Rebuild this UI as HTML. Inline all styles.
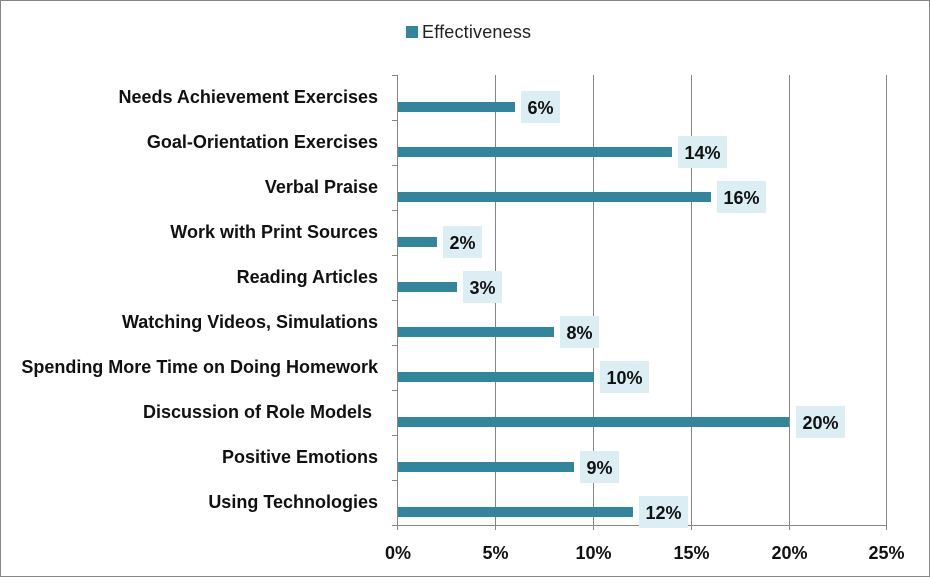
<!DOCTYPE html>
<html><head><meta charset="utf-8"><style>
body{margin:0;background:#fff}
</style></head><body>
<svg width="930" height="578" xmlns="http://www.w3.org/2000/svg" font-family="Liberation Sans, sans-serif">
<rect x="0.5" y="0.5" width="929" height="576" fill="#fff" stroke="#868686"/>
<rect x="406" y="26" width="12" height="12" fill="#31859c"/>
<text x="422" y="38" font-size="18" fill="#222" textLength="109">Effectiveness</text>
<g stroke="#868686" stroke-width="1">
<line x1="495.5" y1="75" x2="495.5" y2="525"/>
<line x1="593.5" y1="75" x2="593.5" y2="525"/>
<line x1="691.5" y1="75" x2="691.5" y2="525"/>
<line x1="789.5" y1="75" x2="789.5" y2="525"/>
<line x1="886.5" y1="75" x2="886.5" y2="525"/>
<line x1="397.5" y1="75" x2="397.5" y2="530"/>
<line x1="392" y1="525.5" x2="887" y2="525.5"/>
<line x1="392" y1="75.5" x2="397" y2="75.5"/><line x1="392" y1="120.5" x2="397" y2="120.5"/>
<line x1="392" y1="165.5" x2="397" y2="165.5"/><line x1="392" y1="210.5" x2="397" y2="210.5"/>
<line x1="392" y1="255.5" x2="397" y2="255.5"/><line x1="392" y1="300.5" x2="397" y2="300.5"/>
<line x1="392" y1="345.5" x2="397" y2="345.5"/><line x1="392" y1="390.5" x2="397" y2="390.5"/>
<line x1="392" y1="435.5" x2="397" y2="435.5"/><line x1="392" y1="480.5" x2="397" y2="480.5"/>
<line x1="495.5" y1="525" x2="495.5" y2="530"/><line x1="593.5" y1="525" x2="593.5" y2="530"/>
<line x1="691.5" y1="525" x2="691.5" y2="530"/><line x1="789.5" y1="525" x2="789.5" y2="530"/>
<line x1="886.5" y1="525" x2="886.5" y2="530"/>
</g>
<g font-size="18" font-weight="bold" fill="#111" text-anchor="end">
<text x="378" y="103">Needs Achievement Exercises</text>
<text x="378" y="148">Goal-Orientation Exercises</text>
<text x="378" y="193">Verbal Praise</text>
<text x="378" y="238">Work with Print Sources</text>
<text x="378" y="283">Reading Articles</text>
<text x="378" y="328">Watching Videos, Simulations</text>
<text x="378" y="373">Spending More Time on Doing Homework</text>
<text x="372" y="418">Discussion of Role Models</text>
<text x="378" y="463">Positive Emotions</text>
<text x="378" y="508">Using Technologies</text>
</g>
<g fill="#31859c">
<rect x="398" y="102" width="117" height="10"/>
<rect x="398" y="147" width="274" height="10"/>
<rect x="398" y="192" width="313" height="10"/>
<rect x="398" y="237" width="39" height="10"/>
<rect x="398" y="282" width="59" height="10"/>
<rect x="398" y="327" width="156" height="10"/>
<rect x="398" y="372" width="196" height="10"/>
<rect x="398" y="417" width="391" height="10"/>
<rect x="398" y="462" width="176" height="10"/>
<rect x="398" y="507" width="235" height="10"/>
</g>
<g fill="#daeef3">
<rect x="521" y="91" width="39" height="32"/>
<rect x="678" y="136" width="49" height="32"/>
<rect x="717" y="181" width="49" height="32"/>
<rect x="443" y="226" width="39" height="32"/>
<rect x="463" y="271" width="39" height="32"/>
<rect x="560" y="316" width="39" height="32"/>
<rect x="600" y="361" width="49" height="32"/>
<rect x="796" y="406" width="49" height="32"/>
<rect x="580" y="451" width="39" height="32"/>
<rect x="639" y="496" width="49" height="32"/>
</g>
<g font-size="18" font-weight="bold" fill="#111" text-anchor="middle">
<text x="540.5" y="114">6%</text>
<text x="702.5" y="159">14%</text>
<text x="741.5" y="204">16%</text>
<text x="462.5" y="249">2%</text>
<text x="482.5" y="294">3%</text>
<text x="579.5" y="339">8%</text>
<text x="624.5" y="384">10%</text>
<text x="820.5" y="429">20%</text>
<text x="599.5" y="474">9%</text>
<text x="663.5" y="519">12%</text>
</g>
<g font-size="18" font-weight="bold" fill="#111" text-anchor="middle">
<text x="398" y="559">0%</text>
<text x="495.5" y="559">5%</text>
<text x="593.5" y="559">10%</text>
<text x="691.5" y="559">15%</text>
<text x="789.5" y="559">20%</text>
<text x="886.5" y="559">25%</text>
</g>
</svg>
</body></html>
